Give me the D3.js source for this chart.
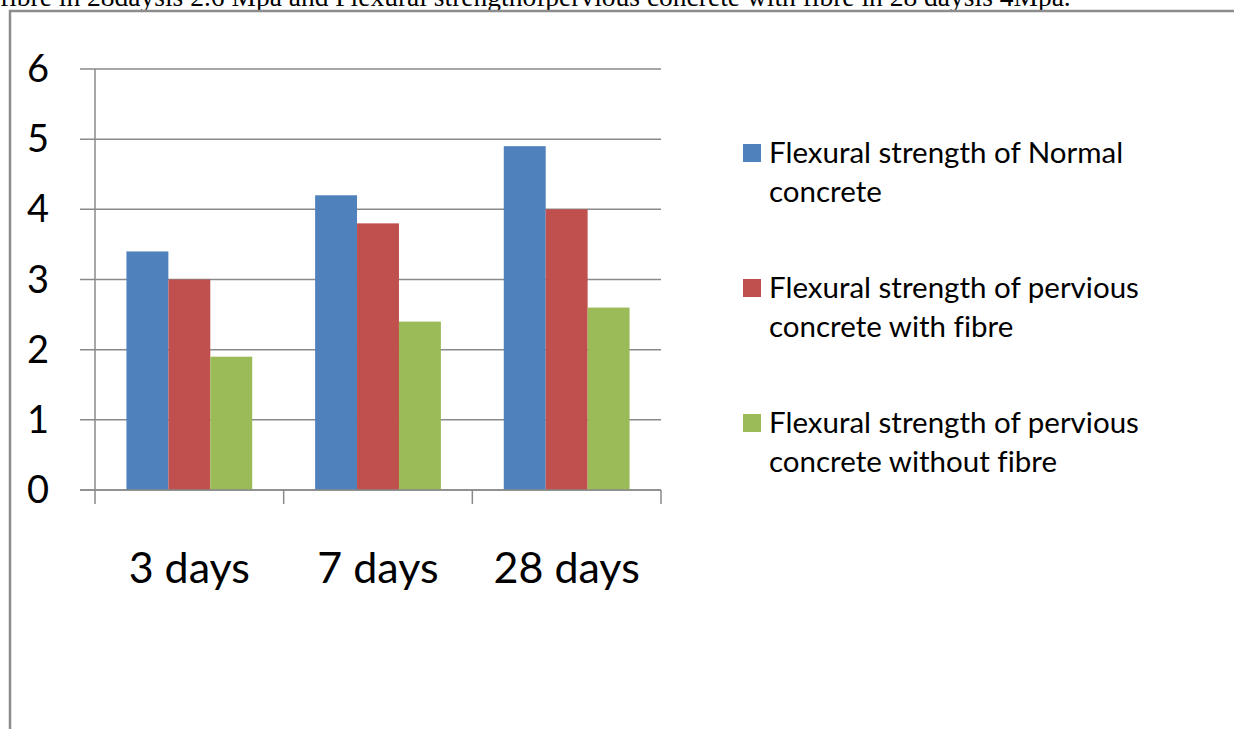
<!DOCTYPE html>
<html>
<head>
<meta charset="utf-8">
<script src="https://cdn.jsdelivr.net/npm/d3@7"></script>
<style>
  html, body { margin: 0; padding: 0; background: #fff; overflow: hidden; }
  svg { display: block; font-variant-ligatures: none; }
</style>
</head>
<body>
<svg id="chart" width="1234" height="729"></svg>
<script>
// Flexural strength (MPa) by curing age
const categories = ["3 days", "7 days", "28 days"];
const seriesNames = [
  "Flexural strength of Normal concrete",
  "Flexural strength of pervious concrete with fibre",
  "Flexural strength of pervious concrete without fibre"
];
const legendLines = [
  ["Flexural strength of Normal", "concrete"],
  ["Flexural strength of pervious", "concrete with fibre"],
  ["Flexural strength of pervious", "concrete without fibre"]
];
const normalConcrete = [3.4, 4.2, 4.9];
const perviousWithFibre = [3.0, 3.8, 4.0];
const perviousWithoutFibre = [1.9, 2.4, 2.6];
const yTicks = [0, 1, 2, 3, 4, 5, 6];
const colors = ["#4F81BD", "#C0504D", "#9BBB59"];

const seriesValues = [normalConcrete, perviousWithFibre, perviousWithoutFibre];

const svg = d3.select("#chart");
const font = "Lato, 'Open Sans', sans-serif";

// Caption line from the surrounding page text
svg.append("text")
  .attr("x", 0).attr("y", 6)
  .attr("font-family", "'Liberation Serif', 'Times New Roman', serif")
  .attr("font-size", 27.5)
  .attr("fill", "#000")
  .text("fibre in 28daysis 2.6 Mpa and Flexural strengthofpervious concrete with fibre in 28 daysis 4Mpa.");

// Chart frame
svg.append("path")
  .attr("d", "M10,729 L10,11 L1234,11")
  .attr("fill", "none")
  .attr("stroke", "#8c8c8c")
  .attr("stroke-width", 2.5);

const plotLeft = 95, plotRight = 661, plotTop = 69, plotBottom = 490;

const x0 = d3.scaleBand().domain(categories).range([plotLeft, plotRight]).padding(0);
const x1 = d3.scaleBand().domain(d3.range(seriesNames.length))
  .range([0, x0.bandwidth()]).paddingInner(0).paddingOuter(0.75);
const y = d3.scaleLinear().domain([0, 6]).range([plotBottom, plotTop]);

// Horizontal gridlines with left tick stubs
const grid = svg.append("g");
grid.selectAll("line.grid")
  .data(yTicks)
  .join("line")
  .attr("x1", plotLeft - 15).attr("x2", plotRight)
  .attr("y1", d => y(d)).attr("y2", d => y(d))
  .attr("stroke", "#8a8a8a").attr("stroke-width", 1.5);

// Bars
const groups = svg.append("g").selectAll("g")
  .data(categories)
  .join("g")
  .attr("transform", d => `translate(${x0(d)},0)`);

groups.selectAll("rect")
  .data((c, ci) => seriesValues.map((vals, si) => ({ si, v: vals[ci] })))
  .join("rect")
  .attr("x", d => x1(d.si))
  .attr("width", x1.bandwidth())
  .attr("y", d => y(d.v))
  .attr("height", d => y(0) - y(d.v))
  .attr("fill", d => colors[d.si]);

// Y axis line
svg.append("line")
  .attr("x1", plotLeft).attr("x2", plotLeft)
  .attr("y1", plotTop).attr("y2", plotBottom)
  .attr("stroke", "#8a8a8a").attr("stroke-width", 1.5);

// X axis line and category separators
svg.append("line")
  .attr("x1", plotLeft - 15).attr("x2", plotRight)
  .attr("y1", plotBottom).attr("y2", plotBottom)
  .attr("stroke", "#8a8a8a").attr("stroke-width", 1.5);

const sepX = categories.map(c => x0(c)).concat([x0(categories[categories.length - 1]) + x0.bandwidth()]);
svg.append("g").selectAll("line")
  .data(sepX)
  .join("line")
  .attr("x1", d => d).attr("x2", d => d)
  .attr("y1", plotBottom).attr("y2", plotBottom + 14)
  .attr("stroke", "#8a8a8a").attr("stroke-width", 1.5);

// Y tick labels
svg.append("g").selectAll("text")
  .data(yTicks)
  .join("text")
  .attr("x", 38)
  .attr("y", d => y(d) + 13)
  .attr("text-anchor", "middle")
  .attr("font-family", font)
  .attr("font-size", 38)
  .attr("fill", "#000")
  .text(d => d);

// Category labels
svg.append("g").selectAll("text")
  .data(categories)
  .join("text")
  .attr("x", d => x0(d) + x0.bandwidth() / 2)
  .attr("y", 583)
  .attr("text-anchor", "middle")
  .attr("font-family", font)
  .attr("font-size", 43)
  .attr("fill", "#000")
  .text(d => d);

// Legend
const legendTop = [144, 279, 414];
const legend = svg.append("g").selectAll("g")
  .data(seriesNames)
  .join("g");

legend.append("rect")
  .attr("x", 743)
  .attr("y", (d, i) => legendTop[i])
  .attr("width", 18).attr("height", 18)
  .attr("fill", (d, i) => colors[i]);

legend.append("text")
  .attr("font-family", font)
  .attr("font-size", 29.5)
  .attr("fill", "#000")
  .selectAll("tspan")
  .data((d, i) => legendLines[i].map((line, li) => ({ line, li, i })))
  .join("tspan")
  .attr("x", 769)
  .attr("y", d => legendTop[d.i] + 19 + d.li * 39)
  .text(d => d.line);
</script>
</body>
</html>
